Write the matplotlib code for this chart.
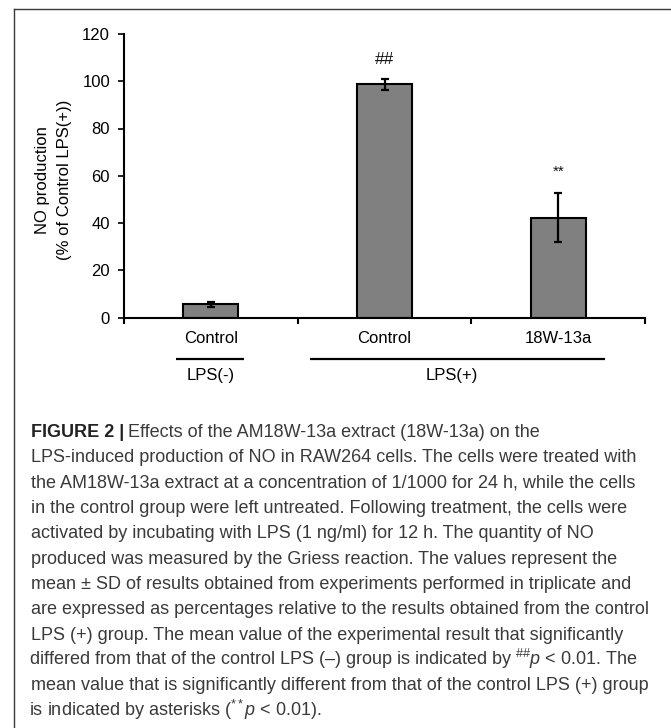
import matplotlib
matplotlib.use('Agg')
import matplotlib.pyplot as plt
from matplotlib import font_manager

# ---- data ----
categories = ['Control', 'Control', '18W-13a']
values = [5.6, 98.8, 42.2]
errors = [1.0, 2.3, 10.4]
annotations = ['', '##', '**']
annot_y = [0, 109.3, 61.7]
groups = ['LPS(-)', 'LPS(+)']
group_spans = [(-0.20, 0.19), (0.57, 2.27)]
group_label_x = [0.0, 1.39]
yticks = [0, 20, 40, 60, 80, 100, 120]
ylabel_lines = ['NO production', '(% of Control LPS(+))']

caption_bold = 'FIGURE 2 |'
caption_lines = [
    'Effects of the AM18W-13a extract (18W-13a) on the',
    'LPS-induced production of NO in RAW264 cells. The cells were treated with',
    'the AM18W-13a extract at a concentration of 1/1000 for 24 h, while the cells',
    'in the control group were left untreated. Following treatment, the cells were',
    'activated by incubating with LPS (1 ng/ml) for 12 h. The quantity of NO',
    'produced was measured by the Griess reaction. The values represent the',
    'mean \u00b1 SD of results obtained from experiments performed in triplicate and',
    'are expressed as percentages relative to the results obtained from the control',
    'LPS (+) group. The mean value of the experimental result that significantly',
    'differed from that of the control LPS (\u2013) group is indicated by $^{\\#\\#}\\mathit{p}$ < 0.01. The',
    'mean value that is significantly different from that of the control LPS (+) group',
    'is indicated by asterisks ($^{**}\\mathit{p}$ < 0.01).',
]

names = {f.name for f in font_manager.fontManager.ttflist}
chart_font = 'Liberation Sans'
cap_font = 'Liberation Sans Narrow' if 'Liberation Sans Narrow' in names else 'Liberation Sans'
plt.rcParams['font.family'] = [chart_font, 'DejaVu Sans']
plt.rcParams['mathtext.fontset'] = 'custom'
plt.rcParams['mathtext.rm'] = cap_font
plt.rcParams['mathtext.it'] = cap_font + ':italic'
plt.rcParams['mathtext.bf'] = cap_font + ':bold'

W, H = 671, 728
fig = plt.figure(figsize=(W / 100, H / 100), dpi=100)

# border (top and left lines)
fig.add_artist(plt.Line2D([14 / W, 1], [1 - 9 / H, 1 - 9 / H], transform=fig.transFigure,
                          color='#3a3a3a', lw=1.0))
fig.add_artist(plt.Line2D([14 / W, 14 / W], [0, 1 - 9 / H], transform=fig.transFigure,
                          color='#3a3a3a', lw=1.0))

ax_l, ax_r, ax_t, ax_b = 124, 645, 34, 317.5
ax = fig.add_axes([ax_l / W, 1 - ax_b / H, (ax_r - ax_l) / W, (ax_b - ax_t) / H])

x = list(range(len(categories)))
ax.bar(x, values, width=0.316, color='#808080', edgecolor='black', linewidth=1.5, zorder=2)
ax.errorbar(x, values, yerr=errors, fmt='none', ecolor='black', elinewidth=1.6,
            capsize=3, capthick=1.6, zorder=3)

for xi, a, ay in zip(x, annotations, annot_y):
    if a:
        ax.text(xi, ay, a, ha='center', va='center', fontsize=12.5 if a == '##' else 11,
                color='#111111')

ax.set_xlim(-0.5, 2.5)
ax.set_ylim(0, 120)
ax.set_yticks(yticks)
ax.set_xticks([-0.5, 0.5, 1.5, 2.5])
ax.set_xticklabels([])
for s in ['top', 'right']:
    ax.spines[s].set_visible(False)
for s in ['left', 'bottom']:
    ax.spines[s].set_linewidth(1.5)
ax.tick_params(axis='y', direction='out', length=4.5, width=1.2, pad=5.5, labelsize=12)
ax.tick_params(axis='x', direction='out', length=4, width=1.5)

xt = ax.get_xaxis_transform()
ax_h = ax_b - ax_t
for xi, c in zip(x, categories):
    ax.text(xi, (ax_b - 338.5) / ax_h, c, transform=xt, ha='center', va='center',
            fontsize=12, clip_on=False)
for (x0, x1), g, gx in zip(group_spans, groups, group_label_x):
    ax.plot([x0, x1], [(ax_b - 358.5) / ax_h] * 2, transform=xt, color='black',
            lw=1.6, clip_on=False, solid_capstyle='butt')
    ax.text(gx, (ax_b - 375.5) / ax_h, g, transform=xt, ha='center', va='center',
            fontsize=12, clip_on=False)

for lx, t in zip([43, 64], ylabel_lines):
    fig.text(lx / W, 1 - 180 / H, t, rotation=90, ha='center', va='center', fontsize=12)

# caption
renderer = fig.canvas.get_renderer()
probe = fig.text(0, 0, caption_lines[7], fontsize=11, family=cap_font)
pw = probe.get_window_extent(renderer).width
probe.remove()
cap_size = 11 * 617 / pw

y0, dy = 437.2, 25.3   # baselines
cap_x = 31
bt = fig.text(cap_x / W, 1 - y0 / H, caption_bold, fontsize=cap_size, family=cap_font,
              fontweight='bold', color='#222222', va='baseline', ha='left')
bx = bt.get_window_extent(renderer).x1
for i, line in enumerate(caption_lines):
    xx = bx + 4 if i == 0 else cap_x
    if '$' in line:
        xx -= 2
    fig.text(xx / W, 1 - (y0 + i * dy) / H, line, fontsize=cap_size, family=cap_font,
             color='#3a3a3a', va='baseline', ha='left')

fig.savefig('out.png', dpi=100)
